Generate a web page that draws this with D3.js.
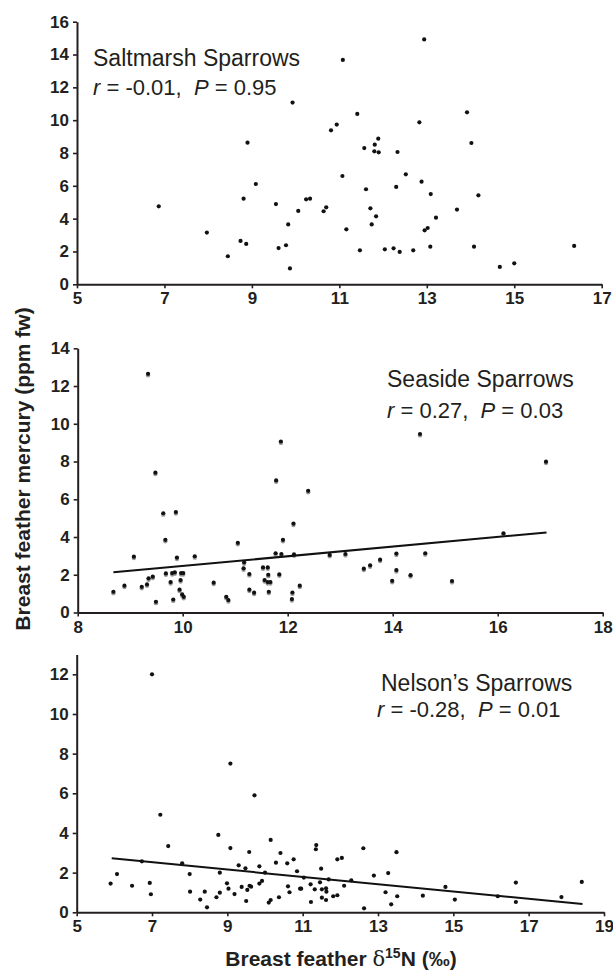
<!DOCTYPE html>
<html>
<head>
<meta charset="utf-8">
<script src="https://cdn.jsdelivr.net/npm/d3@7"></script>
<style>
  body { margin: 0; background: #fff; }
  svg text { font-family: "Liberation Sans", Arial, Helvetica, sans-serif; }
  .axis .domain { stroke: #231f20; stroke-width: 2; }
  .axis .tick line { stroke: #231f20; stroke-width: 1.6; }
  .axis .tick text { font-size: 17px; font-weight: bold; fill: #231f20; }
</style>
</head>
<body>
<div id="app"></div>
<script>
// Saltmarsh Sparrows: breast feather d15N vs mercury
const saltmarshN = [6.87, 7.97, 8.45, 8.74, 8.87, 8.81, 8.90, 9.09, 9.55, 9.61, 9.78, 9.83, 9.87, 9.93,
  10.06, 10.24, 10.33, 10.64, 10.70, 10.81, 10.94, 11.08, 11.07, 11.16, 11.41, 11.47, 11.57, 11.61,
  11.71, 11.74, 11.81, 11.80, 11.89, 11.90, 11.84, 12.04, 12.24, 12.30, 12.33, 12.38, 12.52, 12.69,
  12.83, 12.88, 12.94, 12.95, 13.02, 13.09, 13.08, 13.21, 13.69, 13.92, 14.02, 14.08, 14.18, 14.67,
  15.00, 16.37];
const saltmarshHg = [4.75, 3.15, 1.71, 2.64, 2.46, 5.22, 8.63, 6.11, 4.89, 2.21, 2.38, 3.65, 0.97, 11.07,
  4.47, 5.18, 5.22, 4.45, 4.69, 9.38, 9.73, 13.67, 6.60, 3.35, 10.38, 2.07, 8.30, 5.79,
  4.63, 3.65, 8.51, 8.10, 8.87, 8.04, 4.14, 2.13, 2.19, 5.93, 8.06, 1.97, 6.70, 2.07,
  9.87, 6.25, 14.92, 3.29, 3.43, 5.50, 2.29, 4.06, 4.55, 10.48, 8.61, 2.29, 5.42, 1.06,
  1.28, 2.34];

// Seaside Sparrows
const seasideN = [8.68, 8.89, 9.07, 9.22, 9.32, 9.34, 9.35, 9.43, 9.48, 9.49, 9.63, 9.67, 9.68, 9.77,
  9.80, 9.82, 9.85, 9.87, 9.89, 9.94, 9.96, 9.97, 9.99, 10.01, 10.02, 10.23, 10.59, 10.83, 10.87,
  11.05, 11.17, 11.16, 11.27, 11.27, 11.36, 11.53, 11.56, 11.62, 11.63, 11.62, 11.64, 11.67, 11.78,
  11.77, 11.84, 11.87, 11.88, 11.91, 12.08, 12.09, 12.11, 12.12, 12.23, 12.39, 12.80,
  13.10, 13.45, 13.57, 13.76, 13.99, 14.07, 14.07, 14.34, 14.52, 14.62, 15.13, 16.11, 16.92];
const seasideHg = [1.10, 1.42, 2.96, 1.36, 1.49, 12.65, 1.81, 1.90, 7.41, 0.57, 5.26, 3.85, 2.07, 1.61,
  2.09, 0.69, 2.13, 5.32, 2.91, 1.21, 1.72, 2.09, 0.96, 2.09, 0.83, 2.98, 1.58, 0.83, 0.66,
  3.69, 2.66, 2.34, 2.04, 1.21, 1.05, 2.39, 1.72, 2.39, 2.00, 1.61, 1.10, 1.61, 7.00,
  3.14, 2.02, 9.06, 3.10, 3.85, 0.71, 1.06, 4.71, 3.08, 1.42, 6.45, 3.05,
  3.10, 2.32, 2.50, 2.80, 1.68, 3.12, 2.25, 1.98, 9.46, 3.14, 1.67, 4.20, 7.99];
const seasideTrendN = [8.68, 16.93];
const seasideTrendHg = [2.13, 4.24];

// Nelson's Sparrows
const nelsonN = [5.90, 6.07, 6.47, 6.73, 6.94, 6.97, 7.00, 7.22, 7.43, 7.80, 8.00, 8.01, 8.28, 8.40,
  8.46, 8.71, 8.76, 8.80, 8.80, 8.99, 9.03, 9.08, 9.08, 9.19, 9.30, 9.38, 9.48, 9.50, 9.53, 9.58,
  9.59, 9.63, 9.72, 9.85, 9.85, 9.92, 10.00, 10.10, 10.15, 10.15, 10.29, 10.37, 10.41, 10.59, 10.61,
  10.65, 10.76, 10.85, 10.93, 10.96, 11.03, 11.21, 11.22, 11.32, 11.36, 11.35, 11.46, 11.49, 11.51,
  11.51, 11.62, 11.63, 11.62, 11.69, 11.81, 11.92, 11.92, 12.04, 12.10, 12.29, 12.61, 12.63, 12.89,
  13.20, 13.27, 13.35, 13.49, 13.51, 14.19, 14.79, 15.04, 16.18, 16.66, 16.66, 17.87, 18.41];
const nelsonHg = [1.45, 1.93, 1.34, 2.57, 1.48, 0.91, 12.0, 4.92, 3.34, 2.47, 1.93, 1.04, 0.64, 1.04,
  0.25, 0.76, 3.90, 2.00, 0.99, 1.46, 1.19, 7.50, 3.24, 0.92, 2.37, 1.28, 2.22, 0.57, 1.13, 3.04,
  1.34, 1.29, 5.90, 2.32, 1.45, 1.58, 2.00, 0.49, 0.62, 3.65, 2.50, 0.76, 2.99, 2.47, 1.31,
  1.01, 2.67, 2.07, 1.19, 1.19, 1.75, 1.41, 0.52, 1.16, 3.39, 3.18, 1.51, 2.20, 1.16,
  0.74, 1.21, 1.04, 0.62, 1.66, 0.81, 0.86, 2.67, 2.74, 1.34, 1.61, 3.23, 0.20, 1.85,
  1.01, 1.98, 0.40, 3.03, 0.81, 0.84, 1.28, 0.64, 0.81, 1.50, 0.52, 0.77, 1.53];
const nelsonTrendN = [5.93, 18.43];
const nelsonTrendHg = [2.72, 0.42];

// ticks and labels
const saltmarshXTicks = [5, 7, 9, 11, 13, 15, 17];
const saltmarshYTicks = [0, 2, 4, 6, 8, 10, 12, 14, 16];
const seasideXTicks = [8, 10, 12, 14, 16, 18];
const seasideYTicks = [0, 2, 4, 6, 8, 10, 12, 14];
const nelsonXTicks = [5, 7, 9, 11, 13, 15, 17, 19];
const nelsonYTicks = [0, 2, 4, 6, 8, 10, 12];
const speciesNames = ["Saltmarsh Sparrows", "Seaside Sparrows", "Nelson\u2019s Sparrows"];
const rValues = ["-0.01", "0.27", "-0.28"];
const pValues = ["0.95", "0.03", "0.01"];

const W = 613, H = 974;
const ink = "#231f20";

const svg = d3.select("#app").append("svg")
  .attr("width", W).attr("height", H)
  .style("display", "block");
svg.append("rect").attr("width", W).attr("height", H).attr("fill", "#fff");

const drawPanel = (p) => {
  const x = d3.scaleLinear().domain(p.xDomain).range(p.xRange);
  const y = d3.scaleLinear().domain(p.yDomain).range(p.yRange);
  const g = svg.append("g");

  // points
  const pts = p.xs.map((v, i) => [v, p.ys[i]]);
  if (p.shadow) {
    g.selectAll("circle.shadow").data(pts).join("circle")
      .attr("class", "shadow")
      .attr("cx", (d) => x(d[0]))
      .attr("cy", (d) => y(d[1]) + 1.4)
      .attr("r", 2.2)
      .attr("fill", "#9a9a9a");
  }
  g.selectAll("circle.dot").data(pts).join("circle")
    .attr("class", "dot")
    .attr("cx", (d) => x(d[0]))
    .attr("cy", (d) => y(d[1]))
    .attr("r", 2.1)
    .attr("fill", "#111");

  // regression line
  if (p.trendX) {
    const line = d3.line().x((d) => x(d[0])).y((d) => y(d[1]));
    g.append("path")
      .datum(p.trendX.map((v, i) => [v, p.trendY[i]]))
      .attr("d", line)
      .attr("fill", "none")
      .attr("stroke", "#111")
      .attr("stroke-width", 2);
  }

  // axes
  g.append("g").attr("class", "axis")
    .attr("transform", `translate(0,${p.yRange[0]})`)
    .call(d3.axisBottom(x).tickValues(p.xTicks).tickSize(4).tickSizeOuter(0).tickPadding(4));
  g.append("g").attr("class", "axis")
    .attr("transform", `translate(${p.xRange[0]},0)`)
    .call(d3.axisLeft(y).tickValues(p.yTicks).tickSize(4).tickSizeOuter(0).tickPadding(4));

  // labels
  g.append("text")
    .attr("x", p.titleX).attr("y", p.titleY)
    .attr("font-size", 23).attr("fill", ink)
    .text(p.name);
  const st = g.append("text")
    .attr("x", p.statX).attr("y", p.statY)
    .attr("font-size", 22).attr("fill", ink)
    .attr("xml:space", "preserve");
  st.append("tspan").attr("font-style", "italic").text("r");
  st.append("tspan").text(" = " + p.r + ",  ");
  st.append("tspan").attr("font-style", "italic").text("P");
  st.append("tspan").text(" = " + p.p);
};

drawPanel({
  xs: saltmarshN, ys: saltmarshHg,
  xDomain: [5, 17], xRange: [77, 601.7],
  yDomain: [0, 16], yRange: [284.3, 21.7],
  xTicks: saltmarshXTicks, yTicks: saltmarshYTicks,
  name: speciesNames[0], r: rValues[0], p: pValues[0],
  titleX: 93, titleY: 66, statX: 93, statY: 95
});

drawPanel({
  xs: seasideN, ys: seasideHg, shadow: true,
  trendX: seasideTrendN, trendY: seasideTrendHg,
  xDomain: [8, 18], xRange: [77.7, 602.7],
  yDomain: [0, 14], yRange: [612.5, 348.3],
  xTicks: seasideXTicks, yTicks: seasideYTicks,
  name: speciesNames[1], r: rValues[1], p: pValues[1],
  titleX: 387, titleY: 387, statX: 387, statY: 418
});

drawPanel({
  xs: nelsonN, ys: nelsonHg,
  trendX: nelsonTrendN, trendY: nelsonTrendHg,
  xDomain: [5, 19], xRange: [76.7, 604],
  yDomain: [0, 13], yRange: [912.3, 654.5],
  xTicks: nelsonXTicks, yTicks: nelsonYTicks,
  name: speciesNames[2], r: rValues[2], p: pValues[2],
  titleX: 381, titleY: 691, statX: 377, statY: 717
});

// shared axis titles
svg.append("text")
  .attr("transform", "translate(30,469) rotate(-90)")
  .attr("text-anchor", "middle")
  .attr("font-size", 21).attr("font-weight", "bold").attr("fill", ink)
  .text("Breast feather mercury (ppm fw)");

const xt = svg.append("text")
  .attr("x", 341).attr("y", 966)
  .attr("text-anchor", "middle")
  .attr("font-size", 21).attr("font-weight", "bold").attr("fill", ink);
xt.append("tspan").text("Breast feather ");
xt.append("tspan").attr("font-weight", "normal").attr("font-family", "DejaVu Serif").text("\u03b4");
xt.append("tspan").attr("font-size", 14).attr("dy", -8).text("15");
xt.append("tspan").attr("dy", 8).text("N (\u2030)");
</script>
</body>
</html>
